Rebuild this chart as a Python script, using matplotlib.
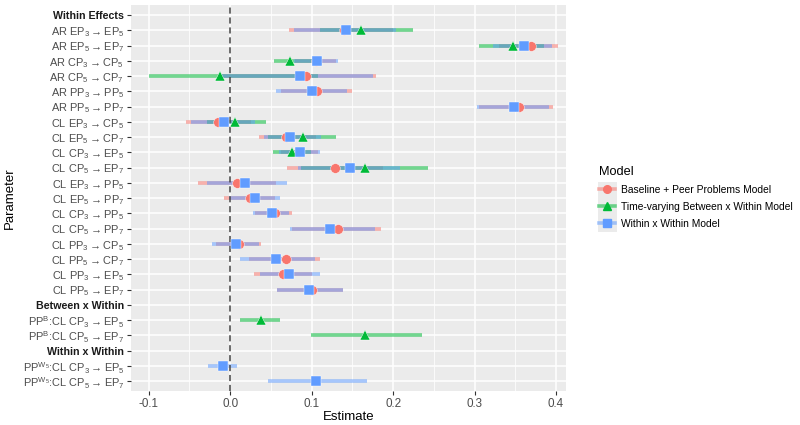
import numpy as np
import matplotlib
matplotlib.use('Agg')
import matplotlib.pyplot as plt
from matplotlib.patches import Rectangle
from matplotlib.lines import Line2D

plt.rcParams['font.family'] = ['Liberation Sans', 'DejaVu Sans']
plt.rcParams['mathtext.default'] = 'regular'

A = r'\rightarrow'
# Parameter labels, top to bottom
labels = [
    'Within Effects',
    f'AR EP$_3{A}$EP$_5$', f'AR EP$_5{A}$EP$_7$', f'AR CP$_3{A}$CP$_5$', f'AR CP$_5{A}$CP$_7$',
    f'AR PP$_3{A}$PP$_5$', f'AR PP$_5{A}$PP$_7$',
    f'CL EP$_3{A}$CP$_5$', f'CL EP$_5{A}$CP$_7$', f'CL CP$_3{A}$EP$_5$', f'CL CP$_5{A}$EP$_7$',
    f'CL EP$_3{A}$PP$_5$', f'CL EP$_5{A}$PP$_7$', f'CL CP$_3{A}$PP$_5$', f'CL CP$_5{A}$PP$_7$',
    f'CL PP$_3{A}$CP$_5$', f'CL PP$_5{A}$CP$_7$', f'CL PP$_3{A}$EP$_5$', f'CL PP$_5{A}$EP$_7$',
    'Between x Within',
    f'PP$^B$:CL CP$_3{A}$EP$_5$', f'PP$^B$:CL CP$_5{A}$EP$_7$',
    'Within x Within',
    f'PP$^{{W_5}}$:CL CP$_3{A}$EP$_5$', f'PP$^{{W_5}}$:CL CP$_5{A}$EP$_7$',
]
headers = ['Within Effects', 'Between x Within', 'Within x Within']
nan = np.nan

models = ['Baseline + Peer Problems Model',
          'Time-varying Between x Within Model',
          'Within x Within Model']

# Baseline + Peer Problems Model
base_est = [nan, 0.140, 0.369, 0.105, 0.093, 0.106, 0.354, -0.015, 0.068, 0.085, 0.129,
            0.008, 0.024, 0.055, 0.132, 0.011, 0.068, 0.065, 0.100,
            nan, nan, nan, nan, nan, nan]
base_lo = [nan, 0.072, 0.330, 0.080, -0.010, 0.063, 0.306, -0.054, 0.035, 0.062, 0.070,
           -0.040, -0.007, 0.030, 0.076, -0.017, 0.023, 0.029, 0.058,
           nan, nan, nan, nan, nan, nan]
base_hi = [nan, 0.200, 0.402, 0.130, 0.179, 0.149, 0.396, 0.025, 0.105, 0.108, 0.188,
           0.056, 0.055, 0.076, 0.185, 0.038, 0.110, 0.101, 0.138,
           nan, nan, nan, nan, nan, nan]

# Time-varying Between x Within Model
tv_est = [nan, 0.161, 0.347, 0.074, -0.013, nan, nan, 0.006, 0.089, 0.076, 0.166,
          nan, nan, nan, nan, nan, nan, nan, nan,
          nan, 0.038, 0.166, nan, nan, nan]
tv_lo = [nan, 0.110, 0.306, 0.054, -0.100, nan, nan, -0.029, 0.047, 0.053, 0.087,
         nan, nan, nan, nan, nan, nan, nan, nan,
         nan, 0.012, 0.099, nan, nan, nan]
tv_hi = [nan, 0.224, 0.385, 0.100, 0.108, nan, nan, 0.044, 0.130, 0.099, 0.243,
         nan, nan, nan, nan, nan, nan, nan, nan,
         nan, 0.061, 0.236, nan, nan, nan]

# Within x Within Model
ww_est = [nan, 0.142, 0.361, 0.106, 0.086, 0.101, 0.349, -0.008, 0.074, 0.086, 0.147,
          0.018, 0.030, 0.051, 0.123, 0.007, 0.056, 0.072, 0.097,
          nan, nan, nan, nan, -0.009, 0.105]
ww_lo = [nan, 0.078, 0.323, 0.078, -0.015, 0.056, 0.303, -0.048, 0.041, 0.060, 0.083,
         -0.029, -0.001, 0.028, 0.073, -0.022, 0.012, 0.037, 0.058,
         nan, nan, nan, nan, -0.027, 0.047]
ww_hi = [nan, 0.204, 0.395, 0.132, 0.175, 0.144, 0.391, 0.031, 0.112, 0.110, 0.209,
         0.070, 0.061, 0.072, 0.178, 0.035, 0.104, 0.110, 0.138,
         nan, nan, nan, nan, 0.008, 0.168]

colors = ['#F8766D', '#00BA38', '#619CFF']
markers = ['o', '^', 's']
series = [(base_est, base_lo, base_hi), (tv_est, tv_lo, tv_hi), (ww_est, ww_lo, ww_hi)]

fig = plt.figure(figsize=(8, 4.25), dpi=100)
ax = fig.add_axes([0.164, 0.080, 0.5435, 0.908])
ax.set_facecolor('#EBEBEB')

y = np.arange(len(labels))

# CI bars first, then points
for (est, lo, hi), c in zip(series, colors):
    lo = np.array(lo); hi = np.array(hi)
    ok = ~np.isnan(lo)
    ax.hlines(y[ok], lo[ok], hi[ok], color=c, alpha=0.55, lw=2.6, zorder=3)
for (est, lo, hi), c, m in zip(series, colors, markers):
    est = np.array(est)
    ok = ~np.isnan(est)
    ax.plot(est[ok], y[ok], ls='none', marker=m, color=c, ms=7 if m != 's' else 6.6,
            mec='white', mew=0.3, zorder=4)

ax.axvline(0, color='#444444', ls=(0, (4, 2.5)), lw=1.1, zorder=3.5)

ax.set_xlim(-0.1215, 0.4123)
ax.set_ylim(len(labels) - 1 + 0.65, -0.65)
ax.set_xticks([-0.1, 0.0, 0.1, 0.2, 0.3, 0.4])
ax.set_xticklabels(['-0.1', '0.0', '0.1', '0.2', '0.3', '0.4'])
ax.set_xticks(np.arange(-0.05, 0.41, 0.1), minor=True)
ax.set_yticks(y)
ax.set_yticklabels(labels)
ax.grid(True, which='major', color='white', lw=1.1, zorder=1)
ax.grid(True, which='minor', axis='x', color='white', lw=0.55, zorder=1)
ax.set_axisbelow(True)
for s in ax.spines.values():
    s.set_visible(False)
ax.tick_params(axis='y', which='major', labelsize=7.9)
ax.tick_params(axis='x', which='major', labelsize=8.4)
ax.tick_params(axis='both', which='major', length=3, width=0.8, color='#333333',
               labelcolor='#4D4D4D', pad=2)
ax.tick_params(axis='x', which='minor', length=0)
for t in ax.get_yticklabels():
    if t.get_text() in headers:
        t.set_fontweight('bold')
        t.set_color('#1A1A1A')
        t.set_fontsize(7.7)

ax.set_xlabel('Estimate', fontsize=9.5, color='black', labelpad=1)
fig.text(10 / 800, 1 - 198 / 425, 'Parameter', rotation=90, ha='center', va='center',
         fontsize=9.5, color='black')

# legend with grey key column
fig.patches.append(Rectangle((598 / 800, 1 - 232 / 425), 19 / 800, 50 / 425,
                             transform=fig.transFigure, facecolor='#EBEBEB',
                             edgecolor='none', zorder=0))
handles = [(Line2D([0], [0], color=c, lw=2.6, alpha=0.55),
            Line2D([0], [0], color=c, marker=m, ls='none', ms=5.5))
           for c, m in zip(colors, markers)]
leg = fig.legend(handles, models, loc='upper left', bbox_to_anchor=(599 / 800, 1 - 166 / 425),
                 frameon=False, fontsize=7.4, title='Model', title_fontsize=9.2,
                 handlelength=1.6, handletextpad=0.5, labelspacing=0.68, borderaxespad=0,
                 borderpad=0)
leg._legend_box.align = 'left'

fig.savefig('out.png', dpi=100)
